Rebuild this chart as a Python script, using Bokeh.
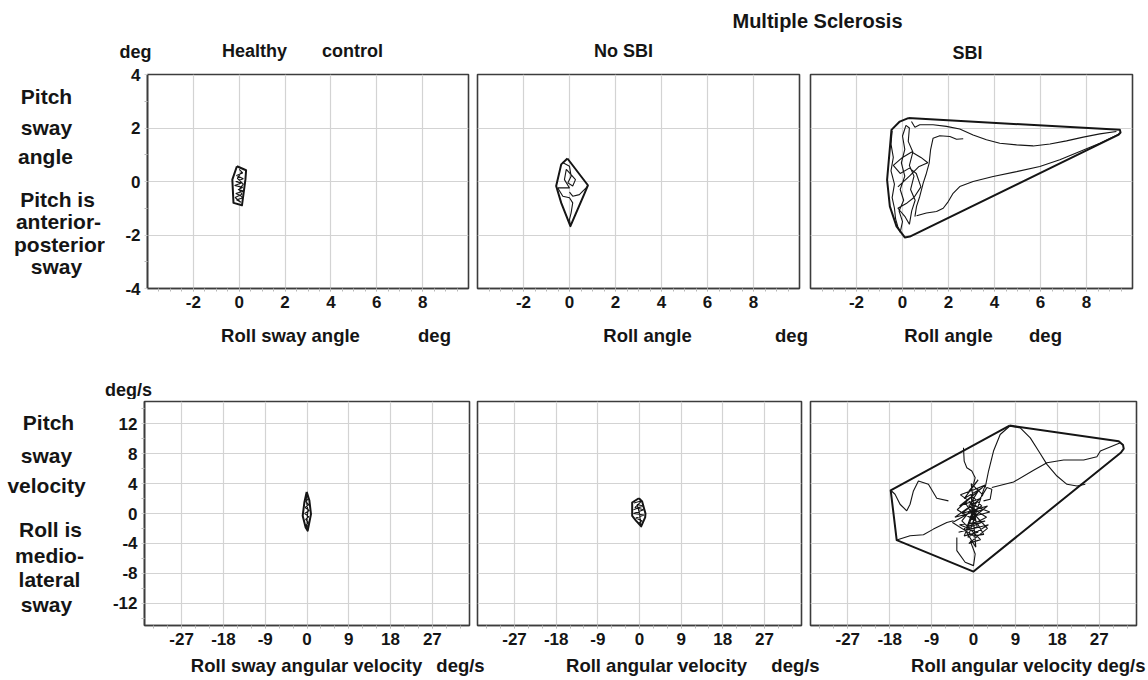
from bokeh.plotting import figure
from bokeh.models import Label, FixedTicker, Range1d
from bokeh.layouts import column, row
from bokeh.embed import file_html
from bokeh.resources import INLINE

FONT = "Liberation Sans"
INK = "#151515"
GRID = "#d3d3d3"
FRAME = "#3c3c3c"

# ---------------- data ----------------
angle_x_ticks = [-2, 0, 2, 4, 6, 8]
angle_x_minor = [-3.5 + 0.5 * i for i in range(27)]
angle_y_ticks = [-4, -2, 0, 2, 4]
angle_y_minor = [-3, -1, 1, 3]
vel_x_ticks = [-27, -18, -9, 0, 9, 18, 27]
vel_x_minor = [-33 + 3 * i for i in range(23)]
vel_y_ticks = [-12, -8, -4, 0, 4, 8, 12]
vel_y_minor = [-14, -10, -6, -2, 2, 6, 10, 14]

# Healthy control - sway angle (deg)
hc_ang_hull_x = [-0.10, 0.30, 0.27, 0.12, -0.25, -0.30, -0.10]
hc_ang_hull_y = [0.57, 0.42, 0.07, -0.89, -0.80, 0.07, 0.57]
hc_ang_path_x = [0.00, 0.15, -0.12, 0.18, -0.15, 0.10, -0.20, 0.15, -0.05, 0.20, -0.15,
                 0.05, 0.15, -0.12, 0.08, -0.18, 0.12, 0.00, 0.18, -0.08, 0.10]
hc_ang_path_y = [0.45, 0.32, 0.22, 0.10, 0.00, -0.06, -0.15, -0.22, -0.30, -0.36, -0.45,
                 -0.52, -0.62, -0.68, -0.78, -0.60, -0.48, -0.30, -0.10, 0.12, 0.35]

# MS no SBI - sway angle
ns_ang_hull_x = [-0.09, 0.80, 0.65, 0.04, -0.36, -0.58, -0.36, -0.09]
ns_ang_hull_y = [0.86, -0.14, -0.45, -1.67, -0.80, -0.17, 0.64, 0.86]
ns_ang_path1_x = [-0.32, 0.00, 0.07, -0.07, 0.14, 0.26, 0.00, -0.14, -0.22, 0.00, -0.51,
                  -0.29, 0.00, 0.14, 0.07, 0.00, 0.04]
ns_ang_path1_y = [0.72, 0.57, 0.20, -0.05, -0.17, 0.07, 0.32, 0.45, 0.07, -0.24, -0.24,
                  -0.55, -0.61, -0.80, -1.17, -1.42, -1.67]
ns_ang_path2_x = [0.00, 0.14, 0.43, 0.58, 0.80]
ns_ang_path2_y = [-0.40, -0.55, -0.49, -0.36, -0.17]

# MS SBI - sway angle
sb_ang_hull_x = [0.25, 9.45, 9.48, 9.38, 0.32, 0.10, -0.26, -0.55, -0.67, -0.48, -0.12, 0.25]
sb_ang_hull_y = [2.37, 1.93, 1.83, 1.74, -2.06, -2.09, -1.68, -0.93, 0.06, 1.93, 2.24, 2.37]
sb_ang_upper_x = [0.39, 0.54, 0.75, 1.33, 1.91, 2.49, 3.07, 3.65, 4.23, 4.96, 5.68, 6.41,
                  7.13, 7.86, 8.58, 9.30]
sb_ang_upper_y = [2.24, 2.03, 2.12, 2.12, 2.06, 1.96, 1.74, 1.56, 1.43, 1.37, 1.33, 1.40,
                  1.52, 1.66, 1.78, 1.87]
sb_ang_lower_x = [9.42, 8.58, 7.71, 6.84, 5.97, 4.96, 3.94, 3.07, 2.49, 2.20, 1.99, 1.77,
                  1.48, 1.04, 0.61]
sb_ang_lower_y = [1.78, 1.43, 1.12, 0.81, 0.56, 0.37, 0.19, 0.00, -0.19, -0.44, -0.75,
                  -1.00, -1.12, -1.18, -1.28]
sb_ang_mid_x = [2.64, 2.35, 2.06, 1.62, 1.33, 1.22, 1.16, 1.04, 0.90, 0.75, 0.61, 0.54]
sb_ang_mid_y = [1.60, 1.58, 1.68, 1.71, 1.62, 1.18, 0.69, 0.31, -0.06, -0.56, -0.93, -1.31]
sb_ang_scrib_x = [-0.45, -0.50, -0.40, -0.50, -0.35, -0.45, -0.35, -0.30, -0.20, -0.10, 0.00,
                  -0.15, 0.05, -0.10, 0.10, -0.05, 0.10, 0.00, 0.15, 0.30, 0.25, 0.45, 0.30,
                  0.50, 0.35, 0.55, 0.40, 0.30, 0.10, -0.20, 0.20, 0.50, 0.80, 0.60, 0.30,
                  -0.10, -0.40, 0.00, 0.40, 0.80, 1.10, 0.70, 0.30, -0.20]
sb_ang_scrib_y = [1.90, 1.40, 0.90, 0.40, -0.10, -0.60, -1.00, -1.40, -1.70, -1.90, -1.50,
                  -1.10, -0.70, -0.30, 0.20, 0.70, 1.20, 1.70, 2.10, 2.00, 1.50, 1.10, 0.60,
                  0.20, -0.30, -0.70, -1.10, -1.60, -1.30, -1.00, -0.80, -0.60, -0.20, 0.30,
                  0.50, 0.30, 0.60, 0.90, 1.10, 0.90, 0.70, 0.55, 0.20, -0.20]

# Healthy control - sway angular velocity (deg/s)
hc_vel_hull_x = [-0.07, 0.50, 0.86, 0.14, -0.29, -0.93, -0.57, -0.07]
hc_vel_hull_y = [2.89, 1.78, -0.09, -2.31, -1.87, -0.31, 1.47, 2.89]
hc_vel_path_x = [0.0, 0.3, -0.3, 0.4, -0.4, 0.5, -0.5, 0.4, -0.3, 0.3, -0.2, 0.1, 0.0, 0.2, -0.2, 0.0]
hc_vel_path_y = [2.6, 2.0, 1.6, 1.2, 0.8, 0.4, 0.0, -0.4, -0.8, -1.2, -1.6, -2.1, -1.0, 0.5, 1.8, 2.6]

# MS no SBI - sway angular velocity
ns_vel_hull_x = [-0.14, 0.57, 1.29, 1.22, 0.36, -0.72, -1.58, -1.58, -0.14]
ns_vel_hull_y = [2.04, 1.60, 0.00, -0.53, -1.73, -0.98, -0.31, 1.47, 2.04]
ns_vel_path_x = [-1.2, 0.5, -1.0, 0.9, -1.3, 1.0, -0.8, 0.6, -0.2, 0.3, 0.0, -0.5, 0.8, -1.3]
ns_vel_path_y = [1.4, 1.7, 0.8, 0.5, 0.0, -0.2, -0.6, -1.0, -1.3, -1.6, 0.0, 1.2, 1.0, 0.5]

# MS SBI - sway angular velocity
sb_vel_hull_x = [7.74, 31.18, 32.11, 32.26, 31.68, 0.00, -16.49, -17.78, 7.74]
sb_vel_hull_y = [11.78, 9.69, 9.16, 8.67, 8.18, -7.78, -3.56, 3.11, 11.78]
sb_vel_wave_x = [2.51, 3.23, 4.30, 5.73, 7.74, 10.04, 12.19, 13.98, 15.77, 17.92, 20.07, 22.22, 24.01]
sb_vel_wave_y = [3.47, 5.69, 8.36, 10.58, 11.69, 11.47, 10.13, 8.36, 6.58, 5.02, 3.91, 3.69, 3.91]
sb_vel_upper_x = [3.94, 8.60, 12.90, 15.77, 19.35, 23.66, 26.50, 27.24, 31.54]
sb_vel_upper_y = [3.47, 4.22, 5.78, 6.80, 7.16, 7.16, 7.60, 8.36, 9.47]
sb_vel_left_x = [-5.38, -7.89, -9.68, -11.83, -12.90, -13.62, -14.34, -15.77, -16.85, -17.78]
sb_vel_left_y = [1.69, 2.04, 3.91, 4.36, 3.02, 1.24, 0.36, 1.24, 2.58, 3.11]
sb_vel_lowleft_x = [-16.49, -13.62, -10.75, -8.60, -5.73, -4.30]
sb_vel_lowleft_y = [-3.56, -2.98, -2.84, -2.09, -1.20, -0.98]
sb_vel_top_x = [-2.15, -2.00, -1.43, -0.36, 0.36, 0.00]
sb_vel_top_y = [8.80, 7.02, 6.13, 5.69, 4.80, 3.91]
sb_vel_bottom_x = [-3.58, -3.58, -1.79, 0.00, 0.36, -0.72]
sb_vel_bottom_y = [-3.20, -4.98, -6.53, -6.98, -5.42, -3.64]
sb_vel_loop_x = [1.79, 2.87, 3.94, 3.58, 2.15]
sb_vel_loop_y = [2.36, 3.47, 3.24, 1.91, 1.69]
sb_vel_scrib_x = [-1.0, 1.0, -2.0, 2.0, -3.0, 1.5, -2.5, 3.0, -1.0, 2.0, -4.0, 0.5, -1.5, 2.5,
                  -3.0, 1.0, -2.0, 0.0, 3.0, -1.0, 1.5, -2.5, 2.0, -0.5, 0.5, -3.5, 1.0, -1.0,
                  2.8, -2.0, 0.5, -0.5, 1.8, -4.5, 0.0, 2.2, -1.8, 3.5, -0.8, 1.0, -2.8, 0.2,
                  2.5, -1.2, 3.2, -3.2, 0.8, -0.3]
sb_vel_scrib_y = [3.0, 4.5, 2.0, 3.5, 1.0, 2.0, 0.0, 1.0, -1.0, 0.5, -0.5, 1.5, -2.0, -1.0,
                  -1.5, -2.5, -3.0, 0.0, -2.0, -4.0, -3.5, -1.0, 2.5, 4.0, -1.0, 0.5, 3.0, 1.0,
                  -0.5, -2.0, -4.5, 2.5, 1.0, -1.2, -3.0, -2.8, 1.5, 0.2, -0.5, 0.8, 2.5, 3.2,
                  3.8, -3.2, -1.5, -2.5, -1.8, 1.0]

# ---------------- layout helpers ----------------
W = 1148


def band(w, h):
    p = figure(width=w, height=h, x_range=Range1d(0, 1), y_range=Range1d(0, 1),
               output_backend="svg", toolbar_location=None,
               x_axis_location=None, y_axis_location=None,
               min_border_left=0, min_border_right=0, min_border_top=0, min_border_bottom=0)
    p.xgrid.visible = False
    p.ygrid.visible = False
    p.outline_line_color = None
    return p


def txt(p, fl, fb, cx, cy, s, align="center", size=18):
    # fl / fb: page position of the left / bottom edge of the figure's frame
    p.add_layout(Label(x=cx - fl, y=fb - cy, x_units="screen", y_units="screen", text=s,
                       text_align=align, text_baseline="middle", text_font=FONT,
                       text_font_style="bold", text_font_size=f"{size}px", text_color=INK))


def hyphen(ticks):
    return {t: str(t) for t in ticks if t < 0}


def panel(xr, yr, left, right, top, bottom, fw, fh, xt, xm, yt, ym, show_y):
    p = figure(width=left + fw + right, height=top + fh + bottom,
               x_range=Range1d(*xr), y_range=Range1d(*yr),
               output_backend="svg", toolbar_location=None,
               y_axis_location="left" if show_y else None,
               min_border_left=left, min_border_right=right,
               min_border_top=top, min_border_bottom=bottom)
    p.outline_line_color = FRAME
    p.outline_line_width = 1.6
    p.xaxis.ticker = FixedTicker(ticks=xt, minor_ticks=xm)
    p.xaxis.major_label_overrides = hyphen(xt)
    p.xgrid.ticker = FixedTicker(ticks=xt)
    p.ygrid.ticker = FixedTicker(ticks=yt)
    for g in (p.xgrid, p.ygrid):
        g.grid_line_color = GRID
        g.grid_line_width = 1.2
    axes = list(p.xaxis)
    if show_y:
        p.yaxis.ticker = FixedTicker(ticks=yt, minor_ticks=ym)
        p.yaxis.major_label_overrides = hyphen(yt)
        axes += list(p.yaxis)
    for ax in axes:
        ax.axis_line_color = FRAME
        ax.axis_line_width = 1.6
        ax.major_tick_line_color = GRID
        ax.major_tick_out = 3
        ax.major_tick_in = 0
        ax.minor_tick_line_color = "#b8b8b8"
        ax.minor_tick_out = 3
        ax.minor_tick_in = 0
        ax.major_label_text_font = FONT
        ax.major_label_text_font_style = "bold"
        ax.major_label_text_font_size = "17px"
        ax.major_label_text_color = INK
        ax.major_label_standoff = 4
    return p


def draw(p, hull, paths, hw=2.0, pw=1.1):
    p.multi_line(xs=[pp[0] for pp in paths], ys=[pp[1] for pp in paths],
                 line_color=INK, line_width=pw)
    p.line(hull[0], hull[1], line_color=INK, line_width=hw, line_join="round")


# ---------------- header (titles) ----------------
HDR = 62
header = band(W, HDR)
txt(header, 0, HDR, 817, 20, "Multiple Sclerosis", size=20)
for s, cx, cy in [("deg", 135, 51), ("Healthy", 254, 50), ("control", 352, 50),
                  ("No SBI", 623, 50), ("SBI", 967, 52)]:
    txt(header, 0, HDR, cx, cy, s)

# ---------------- top row (angles) ----------------
R1_Y = HDR
T_TOP, T_FH, T_BOT = 12, 214, 30
R1_H = T_TOP + T_FH + T_BOT
FB1 = R1_Y + T_TOP + T_FH      # frame bottom of this row (frames are aligned in a row)
L1 = 105
left1 = band(L1, R1_H)
for s, cx, cy in [("Pitch", 46, 96), ("sway", 46, 127), ("angle", 45, 156),
                  ("Pitch is", 57, 199), ("anterior-", 58, 221), ("posterior", 59, 244),
                  ("sway", 56, 266)]:
    txt(left1, 0, FB1, cx, cy, s, size=21)

a1 = panel((-4, 10), (-4, 4), 147 - L1, 4, T_TOP, T_BOT, 321, T_FH,
           angle_x_ticks, angle_x_minor, angle_y_ticks, angle_y_minor, True)
a2 = panel((-4, 10), (-4, 4), 5, 5, T_TOP, T_BOT, 322, T_FH,
           angle_x_ticks, angle_x_minor, angle_y_ticks, angle_y_minor, False)
a3 = panel((-4, 10), (-4, 4), 6, 16, T_TOP, T_BOT, 322, T_FH,
           angle_x_ticks, angle_x_minor, angle_y_ticks, angle_y_minor, False)

draw(a1, (hc_ang_hull_x, hc_ang_hull_y), [(hc_ang_path_x, hc_ang_path_y)])
draw(a2, (ns_ang_hull_x, ns_ang_hull_y),
     [(ns_ang_path1_x, ns_ang_path1_y), (ns_ang_path2_x, ns_ang_path2_y)])
draw(a3, (sb_ang_hull_x, sb_ang_hull_y),
     [(sb_ang_upper_x, sb_ang_upper_y), (sb_ang_lower_x, sb_ang_lower_y),
      (sb_ang_mid_x, sb_ang_mid_y), (sb_ang_scrib_x, sb_ang_scrib_y)])

# ---------------- band with top x labels ----------------
B1_Y = R1_Y + R1_H
B1_H = 399 - B1_Y
band1 = band(W, B1_H)
for s, cx in [("Roll sway angle", 290), ("deg", 434), ("Roll angle", 647), ("deg", 791),
              ("Roll angle", 948), ("deg", 1045)]:
    txt(band1, 0, B1_Y + B1_H, cx, 335, s, size=18.5)
txt(band1, 0, B1_Y + B1_H, 128, 389, "deg/s")

# ---------------- bottom row (velocities) ----------------
R2_Y = B1_Y + B1_H
V_TOP, V_FH, V_BOT = 2, 224, 27
R2_H = V_TOP + V_FH + V_BOT
FB2 = R2_Y + V_TOP + V_FH
L2 = 100
left2 = band(L2, R2_H)
for s, cx, cy in [("Pitch", 48, 422), ("sway", 46, 455), ("velocity", 46, 485),
                  ("Roll is", 50, 529), ("medio-", 49, 555), ("lateral", 49, 579),
                  ("sway", 46, 604)]:
    txt(left2, 0, FB2, cx, cy, s, size=21)

v1 = panel((-35, 35), (-15, 15), 144 - L2, 4, V_TOP, V_BOT, 325, V_FH,
           vel_x_ticks, vel_x_minor, vel_y_ticks, vel_y_minor, True)
v2 = panel((-35, 35), (-15, 15), 4, 4, V_TOP, V_BOT, 324, V_FH,
           vel_x_ticks, vel_x_minor, vel_y_ticks, vel_y_minor, False)
v3 = panel((-35, 35), (-15, 15), 5, 12, V_TOP, V_BOT, 326, V_FH,
           vel_x_ticks, vel_x_minor, vel_y_ticks, vel_y_minor, False)

draw(v1, (hc_vel_hull_x, hc_vel_hull_y), [(hc_vel_path_x, hc_vel_path_y)])
draw(v2, (ns_vel_hull_x, ns_vel_hull_y), [(ns_vel_path_x, ns_vel_path_y)])
draw(v3, (sb_vel_hull_x, sb_vel_hull_y),
     [(sb_vel_wave_x, sb_vel_wave_y), (sb_vel_upper_x, sb_vel_upper_y),
      (sb_vel_left_x, sb_vel_left_y), (sb_vel_lowleft_x, sb_vel_lowleft_y),
      (sb_vel_top_x, sb_vel_top_y), (sb_vel_bottom_x, sb_vel_bottom_y),
      (sb_vel_loop_x, sb_vel_loop_y), (sb_vel_scrib_x, sb_vel_scrib_y)])

# ---------------- band with bottom x labels ----------------
B2_Y = R2_Y + R2_H
B2_H = 678 - B2_Y
band2 = band(W, B2_H)
for s, cx, al in [("Roll sway angular velocity", 306, "center"), ("deg/s", 460, "center"),
                  ("Roll angular velocity", 656, "center"), ("deg/s", 795, "center"),
                  ("Roll angular velocity deg/s", 1145, "right")]:
    txt(band2, 0, B2_Y + B2_H, cx, 665, s, align=al, size=18.5)

layout = column(header, row(left1, a1, a2, a3), band1, row(left2, v1, v2, v3), band2)
open("out.html", "w").write(file_html(layout, INLINE))
